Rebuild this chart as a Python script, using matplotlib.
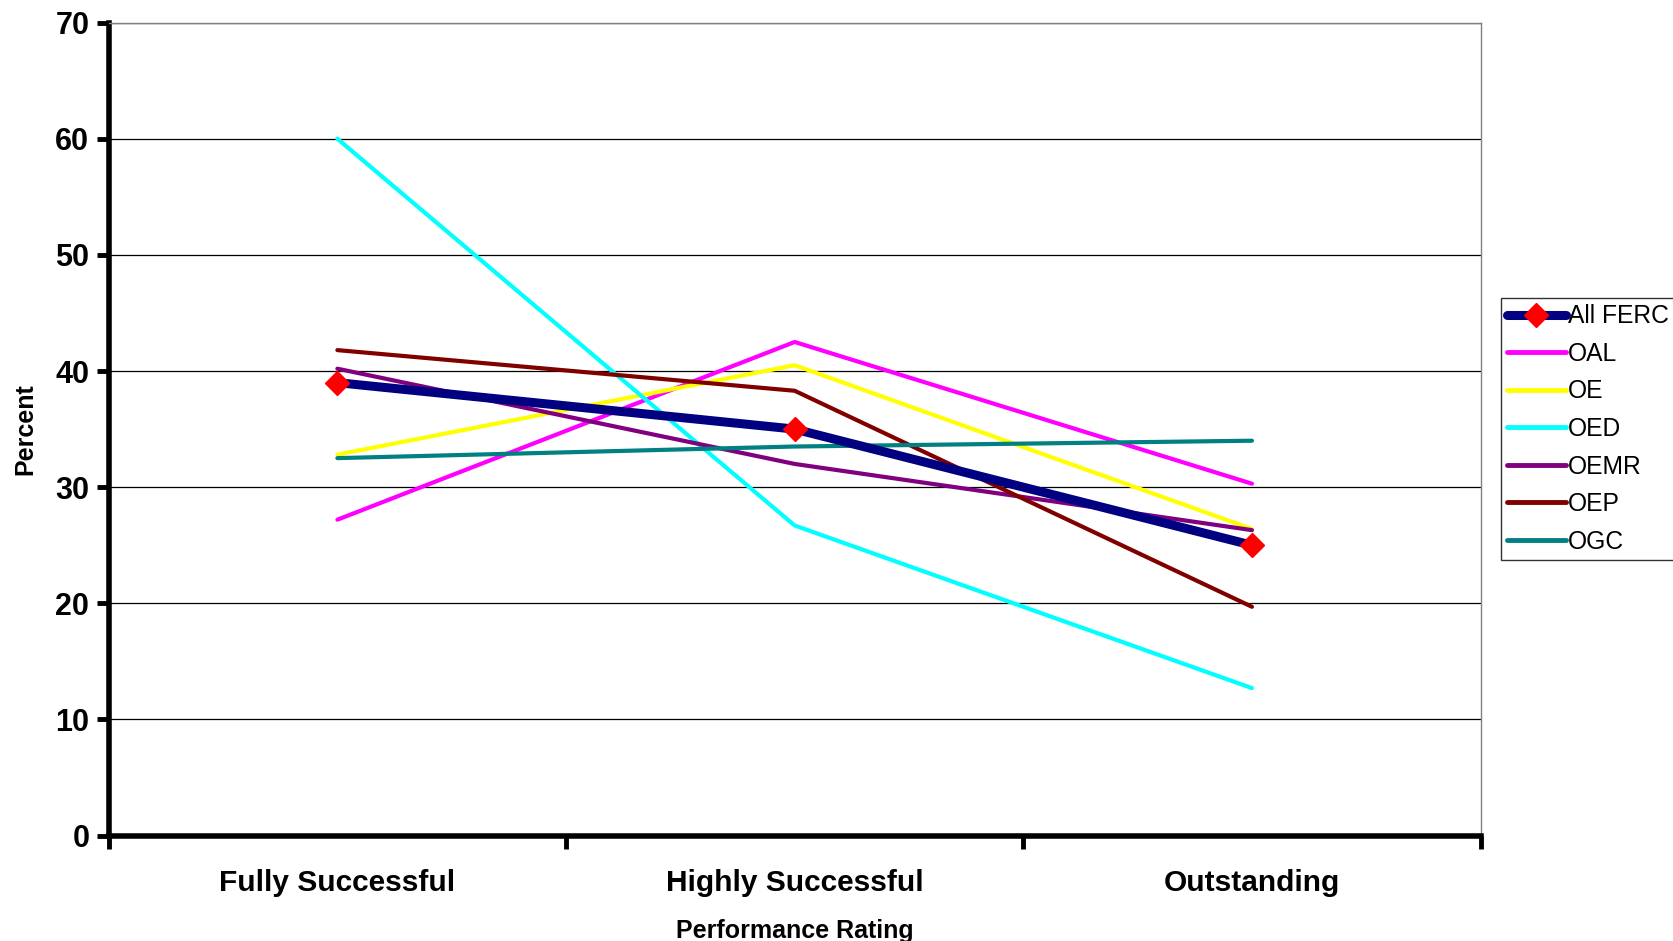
import matplotlib.pyplot as plt

plt.rcParams['font.family'] = ['Liberation Sans', 'DejaVu Sans']

categories = ["Fully Successful", "Highly Successful", "Outstanding"]
series_names = ["All FERC", "OAL", "OE", "OED", "OEMR", "OEP", "OGC"]
all_ferc = [39.0, 35.0, 25.0]
oal = [27.2, 42.5, 30.3]
oe = [32.8, 40.5, 26.4]
oed = [60.0, 26.7, 12.7]
oemr = [40.2, 32.0, 26.3]
oep = [41.8, 38.3, 19.7]
ogc = [32.5, 33.5, 34.0]
yticks = [0, 10, 20, 30, 40, 50, 60, 70]

x = list(range(len(categories)))

fig = plt.figure(figsize=(16.73, 9.41), dpi=100)
ax = fig.add_axes([0.065, 0.112, 0.82, 0.864])

# thick navy line with red diamonds first so it sits in legend first
ax.plot(x, all_ferc, color="#000080", lw=6.5, marker="D", markersize=12,
        markerfacecolor="red", markeredgecolor="red", label=series_names[0],
        solid_capstyle="round", zorder=3)
others = [(oal, "#FF00FF"), (oe, "#FFFF00"), (oed, "#00FFFF"),
          (oemr, "#800080"), (oep, "#800000"), (ogc, "#008080")]
for (vals, col), name in zip(others, series_names[1:]):
    ax.plot(x, vals, color=col, lw=3, label=name, solid_capstyle="round", zorder=2)

ax.set_xlim(-0.5, 2.5)
ax.set_ylim(0, 70)
ax.set_yticks(yticks)
ax.yaxis.grid(True, color="black", lw=0.9)
ax.set_axisbelow(True)

ax.set_xticks(x)
ax.set_xticklabels(categories, fontsize=21.5, fontweight="bold")
ax.tick_params(axis="x", which="major", length=0, pad=24)
ax.set_xticks([-0.5, 0.5, 1.5, 2.5], minor=True)
ax.tick_params(axis="x", which="minor", length=9, width=3.5, direction="out")
ax.tick_params(axis="y", length=9, width=3.5, labelsize=22, pad=5)
for lab in ax.get_yticklabels():
    lab.set_fontweight("bold")

for side in ["left", "bottom"]:
    ax.spines[side].set_linewidth(4)
    ax.spines[side].set_color("black")
for side in ["top", "right"]:
    ax.spines[side].set_linewidth(1)
    ax.spines[side].set_color("#808080")

ax.set_xlabel("Performance Rating", fontsize=18, fontweight="bold")
ax.xaxis.set_label_coords(0.5, -0.102)
ax.set_ylabel("Percent", fontsize=18, fontweight="bold")
ax.yaxis.set_label_coords(-0.052, 0.5)

leg = fig.legend(loc="upper left", bbox_to_anchor=(0.897, 0.683), fontsize=17.7,
                 frameon=True, fancybox=False, handlelength=2.4, handletextpad=0.1,
                 labelspacing=0.55, borderpad=0.25, borderaxespad=0)
leg.get_frame().set_edgecolor("black")
leg.get_frame().set_linewidth(1)
for line in leg.get_lines()[1:]:
    line.set_linewidth(3.5)

fig.savefig("out.png", dpi=100)
